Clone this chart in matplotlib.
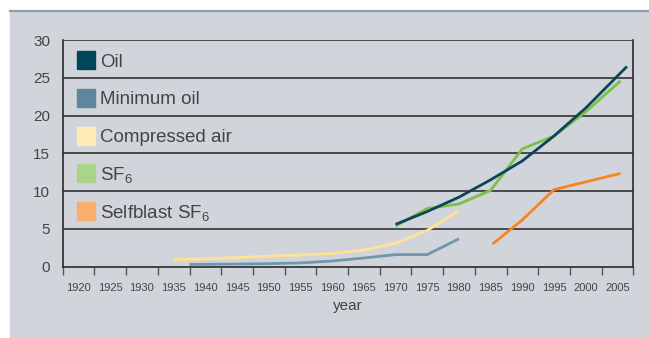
import numpy as np
import matplotlib.pyplot as plt
from matplotlib.patches import Rectangle
from matplotlib.lines import Line2D

plt.rcParams['font.family'] = ['Liberation Sans', 'DejaVu Sans']
plt.rcParams['mathtext.fontset'] = 'custom'
plt.rcParams['mathtext.rm'] = 'Liberation Sans'

# breaking capacity development per technology
oil_years = [1970, 1975, 1980, 1985, 1990, 1995, 2000, 2006.5]
oil = [5.6, 7.3, 9.2, 11.5, 14.0, 17.3, 21.0, 26.5]

minoil_years = [1937.5, 1945, 1950, 1955, 1960, 1965, 1970, 1975, 1980]
minoil = [0.3, 0.35, 0.4, 0.5, 0.75, 1.15, 1.6, 1.6, 3.7]

air_years = [1935, 1940, 1945, 1950, 1955, 1960, 1965, 1970, 1975, 1980]
air = [0.95, 1.05, 1.2, 1.4, 1.55, 1.75, 2.2, 3.1, 4.8, 7.4]

sf6_years = [1970, 1975, 1980, 1985, 1990, 1995, 2000, 2005.5]
sf6 = [5.4, 7.7, 8.3, 10.1, 15.6, 17.3, 20.5, 24.6]

selfblast_years = [1985.3, 1990, 1995, 2005.5]
selfblast = [3.0, 6.2, 10.2, 12.35]

labels = ['Oil', 'Minimum oil', 'Compressed air', r'SF$_\mathrm{6}$', r'Selfblast SF$_\mathrm{6}$']
line_colors = ['#0a4657', '#6f98ac', '#ffe394', '#7cc145', '#f7851f']
box_colors = ['#00465a', '#5d879d', '#ffeab8', '#a9d48a', '#fbae6c']

year_labels = list(range(1920, 2010, 5))

bg = '#d1d4db'
txt = '#444444'

fig = plt.figure(figsize=(6.49, 3.38), dpi=100)
fig.patch.set_facecolor('white')
fig.patches.append(Rectangle((10 / 649, 0), 1 - 10 / 649, 1 - 11 / 338,
                             transform=fig.transFigure, color=bg, zorder=-10))
fig.lines.append(Line2D([10 / 649, 1], [1 - 10.5 / 338] * 2, transform=fig.transFigure,
                        color='#8ea0b5', lw=1.6, zorder=-5))

ax = fig.add_axes([62.7 / 649, 1 - 266.7 / 338, (633.3 - 62.7) / 649, (266.7 - 40) / 338])
ax.set_facecolor(bg)
ax.set_xlim(1917.5, 2007.5)
ax.set_ylim(0, 30)

for v in range(5, 31, 5):
    ax.axhline(v, color='#3f3f3f', lw=1.3, zorder=1)

series = [(oil_years, oil), (minoil_years, minoil), (air_years, air),
          (sf6_years, sf6), (selfblast_years, selfblast)]
order = [2, 1, 4, 3, 0]
for i in order:
    xs, ys = series[i]
    ax.plot(xs, ys, color=line_colors[i], lw=2.0, zorder=3, solid_capstyle='butt')

# legend boxes between the gridlines
for k, lab in enumerate(labels):
    yc = 27.35 - 5 * k
    ax.add_patch(Rectangle((1919.75, yc - 1.19), 2.85, 2.38, color=box_colors[k], zorder=4))
    ax.text(1923.4, yc, lab, fontsize=13.5, color=txt, va='center_baseline', ha='left', zorder=4)

ax.set_xticks(np.arange(1917.5, 2008, 5))
ax.set_xticklabels([])
ax.set_xticks(year_labels, minor=True)
ax.set_xticklabels([str(y) for y in year_labels], minor=True)
ax.tick_params(axis='x', which='major', length=6, width=1, color='#555555', direction='out')
ax.tick_params(axis='x', which='minor', length=0, pad=12, labelsize=8, labelcolor=txt)

ax.set_yticks(range(0, 31, 5))
ax.tick_params(axis='y', length=0, pad=9, labelsize=11, labelcolor=txt)

for s in ['left', 'bottom', 'right']:
    ax.spines[s].set_color('#2a2a2a')
    ax.spines[s].set_linewidth(1.2)
ax.spines['top'].set_visible(False)

ax.set_xlabel('year', fontsize=11, color=txt, labelpad=4)

fig.savefig('out.png', dpi=100)
